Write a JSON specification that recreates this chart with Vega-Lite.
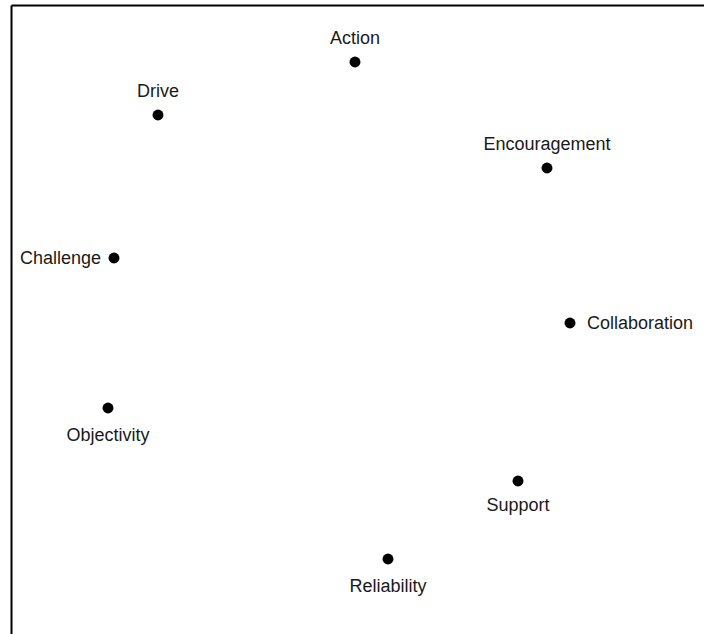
{
  "$schema": "https://vega.github.io/schema/vega-lite/v6.json",
  "width": 700,
  "height": 629,
  "autosize": {"type": "none"},
  "padding": {"left": 11, "top": 5, "right": 0, "bottom": 0},
  "background": "white",
  "config": {
    "view": {"stroke": null},
    "text": {"font": "Liberation Sans", "fontSize": 18, "color": "#1a1a1a"}
  },
  "data": {
    "values": [
      {"name": "Action", "x": 344, "y": 572},
      {"name": "Drive", "x": 147, "y": 519},
      {"name": "Encouragement", "x": 536, "y": 466},
      {"name": "Challenge", "x": 103, "y": 376},
      {"name": "Collaboration", "x": 559, "y": 311},
      {"name": "Objectivity", "x": 97, "y": 226},
      {"name": "Support", "x": 507, "y": 153},
      {"name": "Reliability", "x": 377, "y": 75}
    ]
  },
  "encoding": {
    "x": {"field": "x", "type": "quantitative", "scale": {"domain": [0, 700], "nice": false, "zero": false},
      "axis": {"orient": "top", "domain": true, "domainColor": "black", "domainWidth": 2, "ticks": false, "labels": false, "grid": false, "title": null}},
    "y": {"field": "y", "type": "quantitative", "scale": {"domain": [0, 629], "nice": false, "zero": false},
      "axis": {"orient": "left", "domain": true, "domainColor": "black", "domainWidth": 2, "ticks": false, "labels": false, "grid": false, "title": null}}
  },
  "layer": [
    {"mark": {"type": "point", "filled": true, "color": "black", "size": 120, "opacity": 1}},
    {"transform": [{"filter": {"field": "name", "oneOf": ["Action", "Drive", "Encouragement"]}}],
     "mark": {"type": "text", "align": "center", "baseline": "alphabetic", "dy": -18},
     "encoding": {"text": {"field": "name"}}},
    {"transform": [{"filter": {"field": "name", "oneOf": ["Objectivity", "Reliability"]}}],
     "mark": {"type": "text", "align": "center", "baseline": "alphabetic", "dy": 33},
     "encoding": {"text": {"field": "name"}}},
    {"transform": [{"filter": {"field": "name", "equal": "Support"}}],
     "mark": {"type": "text", "align": "center", "baseline": "alphabetic", "dy": 30},
     "encoding": {"text": {"field": "name"}}},
    {"transform": [{"filter": {"field": "name", "equal": "Challenge"}}],
     "mark": {"type": "text", "align": "right", "baseline": "alphabetic", "dx": -13, "dy": 6},
     "encoding": {"text": {"field": "name"}}},
    {"transform": [{"filter": {"field": "name", "equal": "Collaboration"}}],
     "mark": {"type": "text", "align": "left", "baseline": "alphabetic", "dx": 17, "dy": 6},
     "encoding": {"text": {"field": "name"}}}
  ]
}
